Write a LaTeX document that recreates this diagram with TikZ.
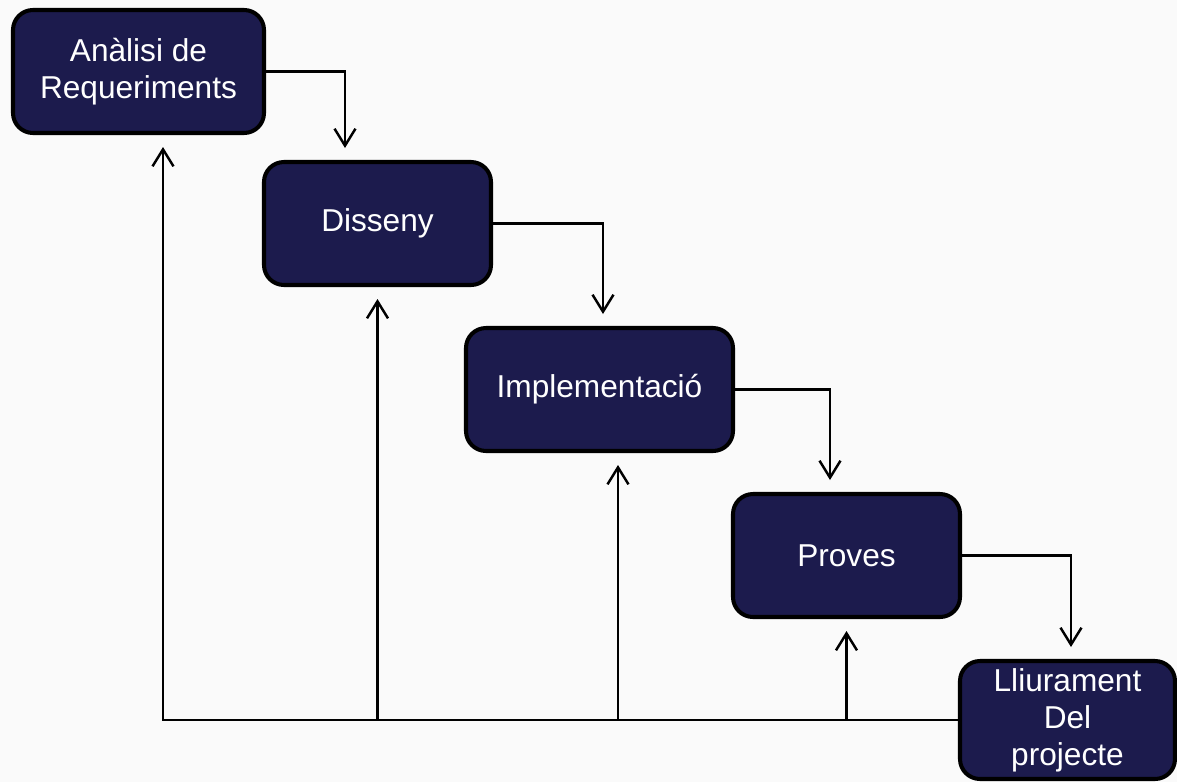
\documentclass[tikz,border=0pt]{standalone}
\usepackage{fontspec}
\setmainfont{Liberation Sans}
\usetikzlibrary{shapes, arrows.meta, positioning}
\usepackage{xcolor}
\definecolor{navy}{RGB}{28,27,77}
\definecolor{fons}{RGB}{250,250,250}
\tikzstyle{arrow} = [line width=1.4pt,-{Straight Barb[length=0.34cm,width=0.42cm]},shorten >=0.28cm]

\begin{document}
\begin{tikzpicture}[font=\fontsize{18}{21}\selectfont]
        \useasboundingbox (0,0) rectangle (23.54,-15.64);
        \clip (0,0) rectangle (23.54,-15.64);
        \fill[fons] (0,0) rectangle (23.54,-15.64);
        \tikzstyle{fase}=[rectangle, rounded corners=0.4cm, draw=black, line width=2.3pt, outer sep=0pt,
                          fill=navy, text=white, minimum height=2.46cm, align=center, inner sep=0pt]
        \node (an) [fase, minimum width=5.02cm, anchor=north west] at (0.26,-0.20) {Anàlisi de\\Requeriments};
        \node (di) [fase, minimum width=4.54cm, below right=0.58cm and 0cm of an] {Disseny};
        \node (im) [fase, minimum width=5.34cm, below right=0.86cm and -0.50cm of di] {Implementació};
        \node (pr) [fase, minimum width=4.54cm, below right=0.86cm and 0cm of im] {Proves};
        \node (ll) [fase, minimum width=4.3cm, minimum height=2.36cm, below right=0.88cm and 0cm of pr] {Lliurament\\Del\\projecte};
        \draw[arrow] (an.east) -| ([xshift=-0.65cm]di.north);
        \draw[arrow] (di.east) -| ([xshift=0.07cm]im.north);
        \draw[arrow] (im.east) -| ([xshift=-0.33cm]pr.north);
        \draw[arrow] (pr.east) -| ([xshift=0.07cm]ll.north);
        % tornada
        \coordinate (imr) at ([xshift=0.37cm]im.south);
        \draw[arrow] (ll.west) -| ([xshift=0.49cm]an.south);
        \draw[arrow] (di.south |- ll.west) -- (di.south);
        \draw[arrow] (imr |- ll.west) -- (imr);
        \draw[arrow] (pr.south |- ll.west) -- (pr.south);
    \end{tikzpicture}
\end{document}
